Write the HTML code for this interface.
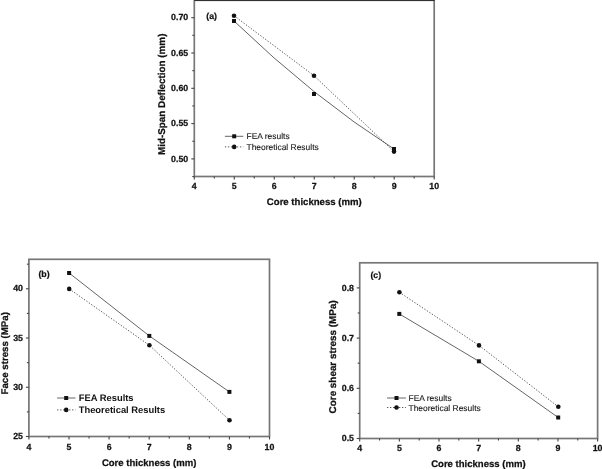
<!DOCTYPE html>
<html><head><meta charset="utf-8"><style>
html,body{margin:0;padding:0;background:#fff;}
body{width:602px;height:469px;overflow:hidden;}
svg{display:block;will-change:transform;filter:blur(0.3px);}
text{font-family:"Liberation Sans", sans-serif;fill:#111;text-rendering:geometricPrecision;}
.tk{font-weight:bold;font-size:8.8px;stroke:#111;stroke-width:0.25px;}
.ti{font-weight:bold;stroke:#111;stroke-width:0.25px;}
.pl{font-weight:bold;font-size:8.8px;stroke:#111;stroke-width:0.2px;}
.lg{font-size:8.45px;fill:#1a1a1a;stroke:#1a1a1a;stroke-width:0.12px;}
.lgb{font-size:9.4px;font-weight:bold;}
</style></head><body>
<svg width="602" height="469" viewBox="0 0 602 469">
<rect width="602" height="469" fill="#fff"/>
<rect x="194.3" y="0.3" width="239.9" height="176.2" fill="none" stroke="#777" stroke-width="1.7"/>
<line x1="194.3" y1="0.45" x2="434.7" y2="0.45" stroke="#222" stroke-width="0.9"/>
<line x1="194.3" y1="176.5" x2="194.3" y2="179.5" stroke="#444" stroke-width="1.1"/>
<line x1="214.29" y1="176.5" x2="214.29" y2="178.5" stroke="#444" stroke-width="1.1"/>
<text transform="translate(194.3,189)" text-anchor="middle" class="tk">4</text>
<line x1="234.28" y1="176.5" x2="234.28" y2="179.5" stroke="#444" stroke-width="1.1"/>
<line x1="254.28" y1="176.5" x2="254.28" y2="178.5" stroke="#444" stroke-width="1.1"/>
<text transform="translate(234.28,189)" text-anchor="middle" class="tk">5</text>
<line x1="274.27" y1="176.5" x2="274.27" y2="179.5" stroke="#444" stroke-width="1.1"/>
<line x1="294.26" y1="176.5" x2="294.26" y2="178.5" stroke="#444" stroke-width="1.1"/>
<text transform="translate(274.27,189)" text-anchor="middle" class="tk">6</text>
<line x1="314.25" y1="176.5" x2="314.25" y2="179.5" stroke="#444" stroke-width="1.1"/>
<line x1="334.24" y1="176.5" x2="334.24" y2="178.5" stroke="#444" stroke-width="1.1"/>
<text transform="translate(314.25,189)" text-anchor="middle" class="tk">7</text>
<line x1="354.23" y1="176.5" x2="354.23" y2="179.5" stroke="#444" stroke-width="1.1"/>
<line x1="374.23" y1="176.5" x2="374.23" y2="178.5" stroke="#444" stroke-width="1.1"/>
<text transform="translate(354.23,189)" text-anchor="middle" class="tk">8</text>
<line x1="394.22" y1="176.5" x2="394.22" y2="179.5" stroke="#444" stroke-width="1.1"/>
<line x1="414.21" y1="176.5" x2="414.21" y2="178.5" stroke="#444" stroke-width="1.1"/>
<text transform="translate(394.22,189)" text-anchor="middle" class="tk">9</text>
<line x1="434.2" y1="176.5" x2="434.2" y2="179.5" stroke="#444" stroke-width="1.1"/>
<text transform="translate(434.2,189)" text-anchor="middle" class="tk">10</text>
<line x1="191.3" y1="158.9" x2="194.3" y2="158.9" stroke="#444" stroke-width="1.1"/>
<text transform="translate(188.2,161.5)" text-anchor="end" class="tk">0.50</text>
<line x1="191.3" y1="123.6" x2="194.3" y2="123.6" stroke="#444" stroke-width="1.1"/>
<text transform="translate(188.2,126.2)" text-anchor="end" class="tk">0.55</text>
<line x1="191.3" y1="88.3" x2="194.3" y2="88.3" stroke="#444" stroke-width="1.1"/>
<text transform="translate(188.2,90.9)" text-anchor="end" class="tk">0.60</text>
<line x1="191.3" y1="53" x2="194.3" y2="53" stroke="#444" stroke-width="1.1"/>
<text transform="translate(188.2,55.6)" text-anchor="end" class="tk">0.65</text>
<line x1="191.3" y1="17.7" x2="194.3" y2="17.7" stroke="#444" stroke-width="1.1"/>
<text transform="translate(188.2,20.3)" text-anchor="end" class="tk">0.70</text>
<line x1="192.3" y1="176.55" x2="194.3" y2="176.55" stroke="#444" stroke-width="1.1"/>
<line x1="192.3" y1="141.25" x2="194.3" y2="141.25" stroke="#444" stroke-width="1.1"/>
<line x1="192.3" y1="105.95" x2="194.3" y2="105.95" stroke="#444" stroke-width="1.1"/>
<line x1="192.3" y1="70.65" x2="194.3" y2="70.65" stroke="#444" stroke-width="1.1"/>
<line x1="192.3" y1="35.35" x2="194.3" y2="35.35" stroke="#444" stroke-width="1.1"/>
<text transform="translate(314.3,205.2)" text-anchor="middle" class="ti" style="font-size:9.6px">Core thickness (mm)</text>
<text transform="translate(165.3,94.3) rotate(-90)" text-anchor="middle" class="ti" style="font-size:9.85px">Mid-Span Deflection (mm)</text>
<text transform="translate(206.3,18.8)" class="pl">(a)</text>
<path d="M234,21 Q314,98 394,149" fill="none" stroke="#666" stroke-width="1"/>
<polyline points="234,15.7 314,75.7 394,151.6" fill="none" stroke="#555" stroke-width="1" stroke-dasharray="1.3,1.7"/>
<rect x="232" y="19" width="4" height="4" fill="#111"/>
<rect x="312" y="92" width="4" height="4" fill="#111"/>
<rect x="392" y="147" width="4" height="4" fill="#111"/>
<circle cx="234" cy="15.7" r="2.3" fill="#111"/>
<circle cx="314" cy="75.7" r="2.3" fill="#111"/>
<circle cx="394" cy="151.6" r="2.3" fill="#111"/>
<line x1="224.9" y1="136.3" x2="243.3" y2="136.3" stroke="#666" stroke-width="1"/>
<rect x="232.2" y="134.3" width="4" height="4" fill="#111"/>
<line x1="224.9" y1="146.9" x2="243.3" y2="146.9" stroke="#555" stroke-width="1" stroke-dasharray="1.3,1.7"/>
<circle cx="234.2" cy="146.9" r="2.3" fill="#111"/>
<text transform="translate(246.5,139.3)" class="lg">FEA results</text>
<text transform="translate(246.5,149.9)" class="lg">Theoretical Results</text>
<rect x="28.9" y="259.3" width="240.6" height="177.2" fill="none" stroke="#777" stroke-width="1.7"/>
<line x1="28.9" y1="436.5" x2="28.9" y2="439.5" stroke="#444" stroke-width="1.1"/>
<line x1="48.95" y1="436.5" x2="48.95" y2="438.5" stroke="#444" stroke-width="1.1"/>
<text transform="translate(28.9,449.5)" text-anchor="middle" class="tk">4</text>
<line x1="69" y1="436.5" x2="69" y2="439.5" stroke="#444" stroke-width="1.1"/>
<line x1="89.05" y1="436.5" x2="89.05" y2="438.5" stroke="#444" stroke-width="1.1"/>
<text transform="translate(69,449.5)" text-anchor="middle" class="tk">5</text>
<line x1="109.1" y1="436.5" x2="109.1" y2="439.5" stroke="#444" stroke-width="1.1"/>
<line x1="129.15" y1="436.5" x2="129.15" y2="438.5" stroke="#444" stroke-width="1.1"/>
<text transform="translate(109.1,449.5)" text-anchor="middle" class="tk">6</text>
<line x1="149.2" y1="436.5" x2="149.2" y2="439.5" stroke="#444" stroke-width="1.1"/>
<line x1="169.25" y1="436.5" x2="169.25" y2="438.5" stroke="#444" stroke-width="1.1"/>
<text transform="translate(149.2,449.5)" text-anchor="middle" class="tk">7</text>
<line x1="189.3" y1="436.5" x2="189.3" y2="439.5" stroke="#444" stroke-width="1.1"/>
<line x1="209.35" y1="436.5" x2="209.35" y2="438.5" stroke="#444" stroke-width="1.1"/>
<text transform="translate(189.3,449.5)" text-anchor="middle" class="tk">8</text>
<line x1="229.4" y1="436.5" x2="229.4" y2="439.5" stroke="#444" stroke-width="1.1"/>
<line x1="249.45" y1="436.5" x2="249.45" y2="438.5" stroke="#444" stroke-width="1.1"/>
<text transform="translate(229.4,449.5)" text-anchor="middle" class="tk">9</text>
<line x1="269.5" y1="436.5" x2="269.5" y2="439.5" stroke="#444" stroke-width="1.1"/>
<text transform="translate(269.5,449.5)" text-anchor="middle" class="tk">10</text>
<line x1="25.9" y1="436.5" x2="28.9" y2="436.5" stroke="#444" stroke-width="1.1"/>
<text transform="translate(23,439.1)" text-anchor="end" class="tk">25</text>
<line x1="25.9" y1="387.27" x2="28.9" y2="387.27" stroke="#444" stroke-width="1.1"/>
<text transform="translate(23,389.87)" text-anchor="end" class="tk">30</text>
<line x1="25.9" y1="338.03" x2="28.9" y2="338.03" stroke="#444" stroke-width="1.1"/>
<text transform="translate(23,340.63)" text-anchor="end" class="tk">35</text>
<line x1="25.9" y1="288.8" x2="28.9" y2="288.8" stroke="#444" stroke-width="1.1"/>
<text transform="translate(23,291.4)" text-anchor="end" class="tk">40</text>
<line x1="26.9" y1="411.88" x2="28.9" y2="411.88" stroke="#444" stroke-width="1.1"/>
<line x1="26.9" y1="362.65" x2="28.9" y2="362.65" stroke="#444" stroke-width="1.1"/>
<line x1="26.9" y1="313.42" x2="28.9" y2="313.42" stroke="#444" stroke-width="1.1"/>
<line x1="26.9" y1="264.18" x2="28.9" y2="264.18" stroke="#444" stroke-width="1.1"/>
<text transform="translate(149.1,466)" text-anchor="middle" class="ti" style="font-size:9.55px">Core thickness (mm)</text>
<text transform="translate(7.8,353.3) rotate(-90)" text-anchor="middle" class="ti" style="font-size:9.7px">Face stress (MPa)</text>
<text transform="translate(38.4,277)" class="pl">(b)</text>
<polyline points="69.1,273 149.3,335.9 229.4,391.9" fill="none" stroke="#666" stroke-width="1"/>
<polyline points="69.2,288.9 149.4,345.3 229.5,420.3" fill="none" stroke="#555" stroke-width="1" stroke-dasharray="1.3,1.7"/>
<rect x="67.1" y="271" width="4" height="4" fill="#111"/>
<rect x="147.3" y="333.9" width="4" height="4" fill="#111"/>
<rect x="227.4" y="389.9" width="4" height="4" fill="#111"/>
<circle cx="69.2" cy="288.9" r="2.3" fill="#111"/>
<circle cx="149.4" cy="345.3" r="2.3" fill="#111"/>
<circle cx="229.5" cy="420.3" r="2.3" fill="#111"/>
<line x1="57.1" y1="398" x2="75.5" y2="398" stroke="#666" stroke-width="1"/>
<rect x="64.2" y="396" width="4" height="4" fill="#111"/>
<line x1="57.1" y1="409.9" x2="75.5" y2="409.9" stroke="#555" stroke-width="1" stroke-dasharray="1.3,1.7"/>
<circle cx="66.2" cy="409.9" r="2.3" fill="#111"/>
<text transform="translate(78.7,401.4)" class="lgb">FEA Results</text>
<text transform="translate(78.7,413.3)" class="lgb">Theoretical Results</text>
<rect x="359.7" y="262.8" width="237.9" height="175.7" fill="none" stroke="#777" stroke-width="1.7"/>
<line x1="359.7" y1="438.5" x2="359.7" y2="441.5" stroke="#444" stroke-width="1.1"/>
<line x1="379.52" y1="438.5" x2="379.52" y2="440.5" stroke="#444" stroke-width="1.1"/>
<text transform="translate(359.7,451)" text-anchor="middle" class="tk">4</text>
<line x1="399.35" y1="438.5" x2="399.35" y2="441.5" stroke="#444" stroke-width="1.1"/>
<line x1="419.18" y1="438.5" x2="419.18" y2="440.5" stroke="#444" stroke-width="1.1"/>
<text transform="translate(399.35,451)" text-anchor="middle" class="tk">5</text>
<line x1="439" y1="438.5" x2="439" y2="441.5" stroke="#444" stroke-width="1.1"/>
<line x1="458.82" y1="438.5" x2="458.82" y2="440.5" stroke="#444" stroke-width="1.1"/>
<text transform="translate(439,451)" text-anchor="middle" class="tk">6</text>
<line x1="478.65" y1="438.5" x2="478.65" y2="441.5" stroke="#444" stroke-width="1.1"/>
<line x1="498.48" y1="438.5" x2="498.48" y2="440.5" stroke="#444" stroke-width="1.1"/>
<text transform="translate(478.65,451)" text-anchor="middle" class="tk">7</text>
<line x1="518.3" y1="438.5" x2="518.3" y2="441.5" stroke="#444" stroke-width="1.1"/>
<line x1="538.12" y1="438.5" x2="538.12" y2="440.5" stroke="#444" stroke-width="1.1"/>
<text transform="translate(518.3,451)" text-anchor="middle" class="tk">8</text>
<line x1="557.95" y1="438.5" x2="557.95" y2="441.5" stroke="#444" stroke-width="1.1"/>
<line x1="577.78" y1="438.5" x2="577.78" y2="440.5" stroke="#444" stroke-width="1.1"/>
<text transform="translate(557.95,451)" text-anchor="middle" class="tk">9</text>
<line x1="597.6" y1="438.5" x2="597.6" y2="441.5" stroke="#444" stroke-width="1.1"/>
<text transform="translate(597.6,451)" text-anchor="middle" class="tk">10</text>
<line x1="356.7" y1="438.5" x2="359.7" y2="438.5" stroke="#444" stroke-width="1.1"/>
<text transform="translate(354,441.1)" text-anchor="end" class="tk">0.5</text>
<line x1="356.7" y1="388.3" x2="359.7" y2="388.3" stroke="#444" stroke-width="1.1"/>
<text transform="translate(354,390.9)" text-anchor="end" class="tk">0.6</text>
<line x1="356.7" y1="338.1" x2="359.7" y2="338.1" stroke="#444" stroke-width="1.1"/>
<text transform="translate(354,340.7)" text-anchor="end" class="tk">0.7</text>
<line x1="356.7" y1="287.9" x2="359.7" y2="287.9" stroke="#444" stroke-width="1.1"/>
<text transform="translate(354,290.5)" text-anchor="end" class="tk">0.8</text>
<line x1="357.7" y1="413.4" x2="359.7" y2="413.4" stroke="#444" stroke-width="1.1"/>
<line x1="357.7" y1="363.2" x2="359.7" y2="363.2" stroke="#444" stroke-width="1.1"/>
<line x1="357.7" y1="313" x2="359.7" y2="313" stroke="#444" stroke-width="1.1"/>
<text transform="translate(478.4,467)" text-anchor="middle" class="ti" style="font-size:9.55px">Core thickness (mm)</text>
<text transform="translate(336,356.85) rotate(-90)" text-anchor="middle" class="ti" style="font-size:9.9px">Core shear stress (MPa)</text>
<text transform="translate(370.4,278)" class="pl">(c)</text>
<polyline points="399.3,313.9 478.9,361.3 558.2,417.5" fill="none" stroke="#666" stroke-width="1"/>
<polyline points="399.4,292.3 479,345.4 558.3,406.8" fill="none" stroke="#555" stroke-width="1" stroke-dasharray="1.3,1.7"/>
<rect x="397.3" y="311.9" width="4" height="4" fill="#111"/>
<rect x="476.9" y="359.3" width="4" height="4" fill="#111"/>
<rect x="556.2" y="415.5" width="4" height="4" fill="#111"/>
<circle cx="399.4" cy="292.3" r="2.3" fill="#111"/>
<circle cx="479" cy="345.4" r="2.3" fill="#111"/>
<circle cx="558.3" cy="406.8" r="2.3" fill="#111"/>
<line x1="387" y1="398" x2="405.9" y2="398" stroke="#666" stroke-width="1"/>
<rect x="394.5" y="396" width="4" height="4" fill="#111"/>
<line x1="387" y1="407.5" x2="405.9" y2="407.5" stroke="#555" stroke-width="1" stroke-dasharray="1.3,1.7"/>
<circle cx="396.5" cy="407.5" r="2.3" fill="#111"/>
<text transform="translate(408.5,401)" class="lg">FEA results</text>
<text transform="translate(408.5,410.5)" class="lg">Theoretical Results</text>
</svg>
</body></html>
